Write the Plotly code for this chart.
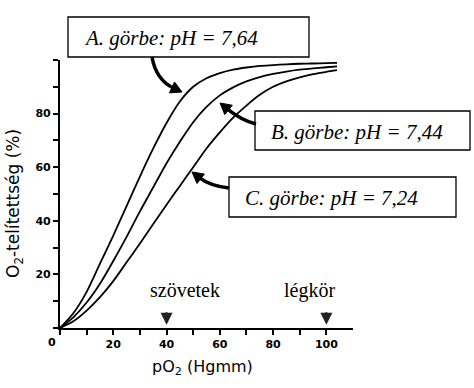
import math
import plotly.graph_objects as go

# ---- data ----
po2 = [0, 5, 10, 15, 20, 25, 30, 35, 40, 45, 50, 55, 60, 65, 70, 75, 80, 85, 90, 95, 100, 104]
sat_A = [0, 5.5, 13.5, 24, 34.5, 45.5, 56.5, 67, 76.5, 84.5, 90, 93.2, 95.1, 96.4, 97.2, 97.8, 98.1, 98.4, 98.6, 98.7, 98.8, 98.9]
sat_B = [0, 4, 9.5, 16.5, 25, 34, 43.5, 52.5, 61.5, 69.5, 76.8, 82.5, 86.8, 89.8, 92, 93.6, 94.8, 95.7, 96.4, 96.9, 97.3, 97.6]
sat_C = [0, 2.5, 6.5, 11.5, 17.5, 24.5, 31.5, 38.8, 46, 53, 60, 67, 73, 78.5, 83, 87, 90, 92, 93.5, 94.7, 95.6, 96.2]

curve_labels = ["A. görbe: pH = 7,64", "B. görbe: pH = 7,44", "C. görbe: pH = 7,24"]
marker_names = ["szövetek", "légkör"]
marker_x = [40, 100]

x_tickvals = [0, 10, 20, 30, 40, 50, 60, 70, 80, 90, 100]
x_ticktext = ["", "", "20", "", "40", "", "60", "", "80", "", "100"]
y_tickvals = [0, 10, 20, 30, 40, 50, 60, 70, 80, 90, 100]
y_ticktext = ["", "", "20", "", "40", "", "60", "", "80", "", ""]

# ---- layout geometry ----
W, H = 474, 388
L, T = 60, 60
PW, PH = 293, 268
R = W - L - PW
B = H - T - PH


def P(px, py):
    """pixel -> paper coordinates"""
    return ((px - L) / PW, (T + PH - py) / PH)


fig = go.Figure()
for ys in (sat_A, sat_B, sat_C):
    fig.add_trace(go.Scatter(x=po2, y=ys, mode="lines",
                             line=dict(color="black", width=1.8, shape="spline", smoothing=0.8),
                             showlegend=False, hoverinfo="skip"))

shapes = []
annotations = []


def curved_arrow(S, C, Tp, head_len=11, head_w=6, width=3.5):
    dx, dy = Tp[0] - C[0], Tp[1] - C[1]
    ln = math.hypot(dx, dy)
    ux, uy = dx / ln, dy / ln
    bx, by = Tp[0] - ux * head_len * 0.8, Tp[1] - uy * head_len * 0.8
    s, c, b = P(*S), P(*C), P(bx, by)
    shapes.append(dict(type="path", xref="paper", yref="paper",
                       path=f"M {s[0]},{s[1]} Q {c[0]},{c[1]} {b[0]},{b[1]}",
                       line=dict(color="black", width=width), layer="above"))
    hbx, hby = Tp[0] - ux * head_len, Tp[1] - uy * head_len
    px_, py_ = -uy, ux
    p1 = P(*Tp)
    p2 = P(hbx + px_ * head_w, hby + py_ * head_w)
    p3 = P(hbx - px_ * head_w, hby - py_ * head_w)
    shapes.append(dict(type="path", xref="paper", yref="paper",
                       path=f"M {p1[0]},{p1[1]} L {p2[0]},{p2[1]} L {p3[0]},{p3[1]} Z",
                       fillcolor="black", line=dict(color="black", width=1), layer="above"))


def box(x0, y0, x1, y1, text):
    a, b_ = P(x0, y0), P(x1, y1)
    shapes.append(dict(type="rect", xref="paper", yref="paper",
                       x0=a[0], y0=b_[1], x1=b_[0], y1=a[1],
                       fillcolor="white", line=dict(color="black", width=1.3), layer="above"))
    tx, ty = P(x0 + 14, (y0 + y1) / 2 + 1)
    annotations.append(dict(xref="paper", yref="paper", x=tx, y=ty, xanchor="left", yanchor="middle",
                            text=f"<i>{text}</i>", showarrow=False,
                            font=dict(family="Liberation Serif", size=21, color="black")))


# boxes with labels
box(68, 17, 309, 57, curve_labels[0])
box(255, 111, 470, 150, curve_labels[1])
box(229, 177, 456, 217, curve_labels[2])

# curved arrows
curved_arrow((152, 57), (156, 80), (182, 92))
curved_arrow((256, 124), (241, 120), (220, 103))
curved_arrow((229, 188), (210, 186), (192, 172))

# tissue / atmosphere markers
text_offsets = [7, -6.5]
for name, xv, off in zip(marker_names, marker_x, text_offsets):
    annotations.append(dict(x=xv, y=1.2, xref="x", yref="y", ax=0, ay=-14, text="",
                            showarrow=True, arrowhead=2, arrowsize=1.2, arrowwidth=2,
                            arrowcolor="#222"))
    annotations.append(dict(x=xv + off, y=14, xref="x", yref="y", text=name, showarrow=False,
                            xanchor="center", yanchor="middle",
                            font=dict(family="Liberation Serif", size=20, color="black")))

# corner zero
zx, zy = P(52, 342)
annotations.append(dict(xref="paper", yref="paper", x=zx, y=zy, text="0", showarrow=False,
                        xanchor="center", yanchor="middle",
                        font=dict(family="DejaVu Sans", size=11, color="black", weight="bold")))

# axis titles
tx, ty = P(202, 367)
annotations.append(dict(xref="paper", yref="paper", x=tx, y=ty, text="pO<sub>2</sub> (Hgmm)",
                        showarrow=False, xanchor="center", yanchor="middle",
                        font=dict(family="DejaVu Sans", size=16, color="black")))
tx, ty = P(14, 204)
annotations.append(dict(xref="paper", yref="paper", x=tx, y=ty, text="O<sub>2</sub>-telítettség (%)",
                        showarrow=False, xanchor="center", yanchor="middle", textangle=-90,
                        font=dict(family="DejaVu Sans", size=17, color="black")))

axis_common = dict(showline=True, linecolor="black", linewidth=2.2, ticks="outside",
                   ticklen=5, tickwidth=1.5, tickcolor="black", showgrid=False, zeroline=False,
                   tickfont=dict(family="DejaVu Sans", size=11, color="black", weight="bold"),
                   fixedrange=True)

fig.update_layout(
    width=W, height=H,
    margin=dict(l=L, r=R, t=T, b=B),
    paper_bgcolor="white", plot_bgcolor="white",
    xaxis=dict(range=[0, 110], tickvals=x_tickvals, ticktext=x_ticktext, **axis_common),
    yaxis=dict(range=[0, 100], tickvals=y_tickvals, ticktext=y_ticktext, **axis_common),
    shapes=shapes, annotations=annotations,
)

fig.write_html("out.html")
